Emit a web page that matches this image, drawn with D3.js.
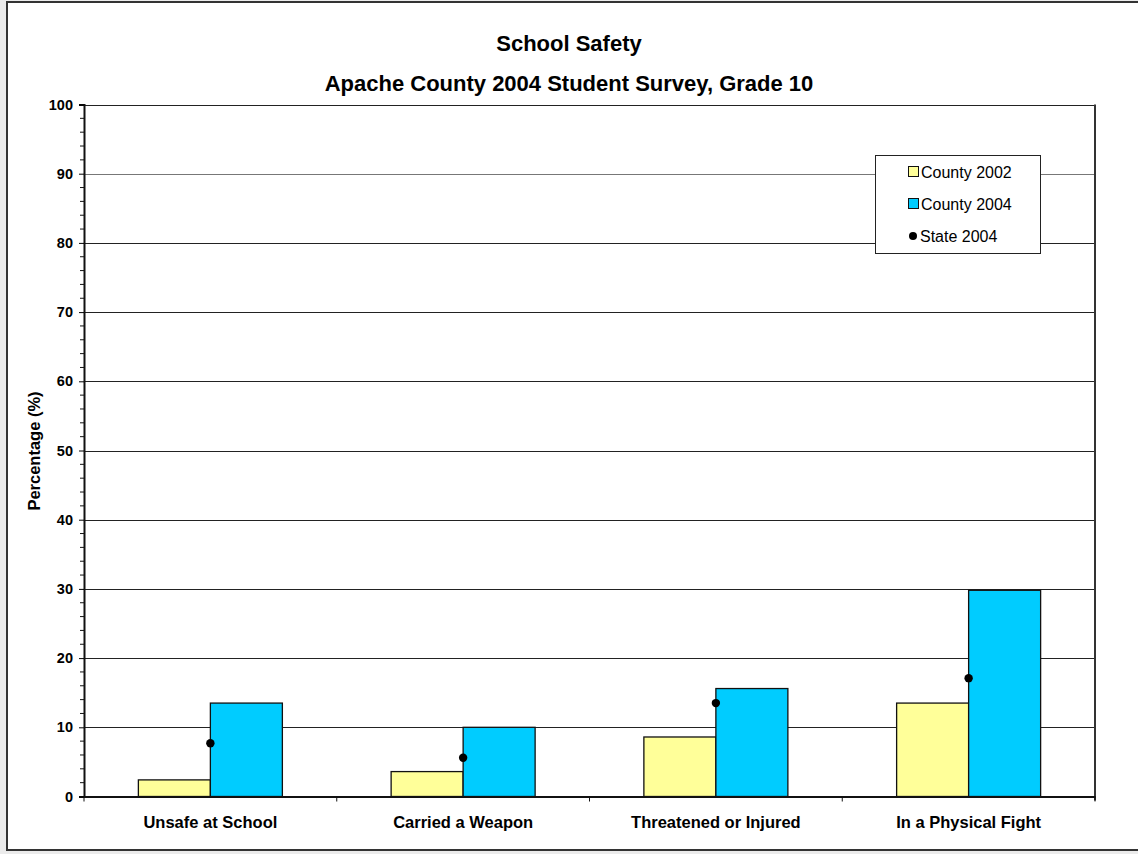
<!DOCTYPE html>
<html><head><meta charset="utf-8">
<script src="https://cdn.jsdelivr.net/npm/d3@7"></script>
<style>
html,body{margin:0;padding:0;background:#ebebeb;}
svg{display:block;}
text{font-family:Arial,"Liberation Sans",sans-serif;}
</style></head>
<body>
<script>
const categories = ["Unsafe at School","Carried a Weapon","Threatened or Injured","In a Physical Fight"];
const county2002 = [2.4, 3.6, 8.6, 13.5];
const county2004 = [13.5, 10.0, 15.6, 29.8];
const state2004 = [7.7, 5.6, 13.5, 17.1];
const yTicks = [0,10,20,30,40,50,60,70,80,90,100];
const seriesNames = ["County 2002","County 2004","State 2004"];
const titleText = "School Safety";
const subtitleText = "Apache County 2004 Student Survey, Grade 10";
const yTitle = "Percentage (%)";

const W = 1138, H = 854;
const svg = d3.select("body").append("svg").attr("width", W).attr("height", H);

// outer frame
svg.append("rect").attr("x", 7).attr("y", 2).attr("width", 1140).attr("height", 848)
  .attr("fill", "#fff").attr("stroke", "#333").attr("stroke-width", 2);

const L = 84, R = 1095, T = 104.5, B = 796.5;
const x = d3.scaleBand().domain(categories).range([L, R]).paddingInner(0).paddingOuter(0);
const y = d3.scaleLinear().domain([0,100]).range([B, T]);

// gridlines
svg.append("g").selectAll("line").data(yTicks.filter(d => d > 0)).join("line")
  .attr("x1", L).attr("x2", R).attr("y1", d => Math.round(y(d)) + 0.5).attr("y2", d => Math.round(y(d)) + 0.5)
  .attr("stroke", d => d === 90 ? "#777" : "#222").attr("stroke-width", 1);

// plot border right
svg.append("line").attr("x1", R).attr("x2", R).attr("y1", T).attr("y2", B + 4)
  .attr("stroke", "#333").attr("stroke-width", 2);

// bars
const bw = 72;
const g = svg.append("g");
categories.forEach((c, i) => {
  const cx = x(c) + x.bandwidth() / 2;
  g.append("rect").attr("x", cx - bw).attr("y", y(county2002[i])).attr("width", bw)
    .attr("height", y(0) - y(county2002[i])).attr("fill", "#ffff99").attr("stroke", "#111").attr("stroke-width", 1.3);
  g.append("rect").attr("x", cx).attr("y", y(county2004[i])).attr("width", bw)
    .attr("height", y(0) - y(county2004[i])).attr("fill", "#00ccff").attr("stroke", "#111").attr("stroke-width", 1.3);
});
// state dots
g.selectAll("circle").data(categories).join("circle")
  .attr("cx", d => x(d) + x.bandwidth() / 2).attr("cy", (d, i) => y(state2004[i]))
  .attr("r", 4.2).attr("fill", "#000");

// y axis
const yAxis = svg.append("g").attr("transform", `translate(${L},0)`)
  .call(d3.axisLeft(y).tickValues(yTicks).tickSize(5).tickPadding(6));
yAxis.select(".domain").attr("stroke", "#111").attr("stroke-width", 2);
yAxis.selectAll("text").attr("font-size", 14.5).attr("font-weight", "bold").attr("fill", "#000");
const minor = d3.range(0, 101, 2).filter(d => d % 10 !== 0);
svg.append("g").selectAll("line").data(minor).join("line")
  .attr("x1", L - 4).attr("x2", L).attr("y1", d => y(d)).attr("y2", d => y(d))
  .attr("stroke", "#111");

// x axis
const xAxis = svg.append("g").attr("transform", `translate(0,${B})`)
  .call(d3.axisBottom(x).tickSize(0).tickPadding(19.5));
xAxis.select(".domain").attr("stroke", "#111").attr("stroke-width", 2);
xAxis.selectAll("text").attr("font-size", 16.5).attr("font-weight", "bold").attr("fill", "#000");
svg.append("g").selectAll("line").data(d3.range(0, 5)).join("line")
  .attr("x1", d => L + d * x.step()).attr("x2", d => L + d * x.step())
  .attr("y1", B).attr("y2", B + 5).attr("stroke", "#111");

// titles
svg.append("text").attr("x", 569).attr("y", 51).attr("text-anchor", "middle")
  .attr("font-size", 22).attr("font-weight", "bold").text(titleText);
svg.append("text").attr("x", 569).attr("y", 91).attr("text-anchor", "middle")
  .attr("font-size", 22).attr("font-weight", "bold").text(subtitleText);
svg.append("text").attr("transform", "translate(40,451) rotate(-90)").attr("text-anchor", "middle")
  .attr("font-size", 16.5).attr("font-weight", "bold").text(yTitle);

// legend
const lg = svg.append("g");
lg.append("rect").attr("x", 875.5).attr("y", 155.5).attr("width", 165).attr("height", 98)
  .attr("fill", "#fff").attr("stroke", "#222");
const colors = ["#ffff99", "#00ccff"];
seriesNames.forEach((n, i) => {
  const cy = 172 + i * 32;
  if (i < 2) {
    lg.append("rect").attr("x", 908.5).attr("y", cy - 5.5).attr("width", 10).attr("height", 10)
      .attr("fill", colors[i]).attr("stroke", "#111");
  } else {
    lg.append("circle").attr("cx", 913).attr("cy", cy).attr("r", 4).attr("fill", "#000");
  }
  lg.append("text").attr("x", i < 2 ? 921 : 920).attr("y", cy + 5.5).attr("font-size", 16).text(n);
});
</script>
</body></html>
